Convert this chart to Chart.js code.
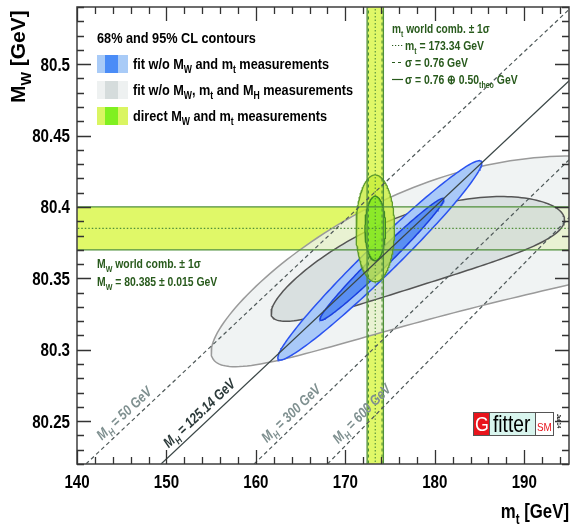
<!DOCTYPE html>
<html>
<head>
<meta charset="utf-8">
<title>MW vs mt</title>
<script src="https://cdn.jsdelivr.net/npm/chart.js@4.4.0/dist/chart.umd.min.js"></script>
<style>
  html, body { margin: 0; padding: 0; background: #fff; }
  canvas { display: block; }
</style>
</head>
<body>
<canvas id="chart" width="571" height="525"></canvas>
<script>
// ============================================
// DATA
// ============================================

const xMin = 140, xMax = 195;
const yMin = 80.22, yMax = 80.54;
const xTickValues = [140, 150, 160, 170, 180, 190];
const xTickLabels = ['140', '150', '160', '170', '180', '190'];
const yTickValues = [80.25, 80.3, 80.35, 80.4, 80.45, 80.5];
const yTickLabels = ['80.25', '80.3', '80.35', '80.4', '80.45', '80.5'];

// world combinations
const mtCentral = 173.34;
const mtSigmaExp = 0.76;
const mtSigmaTot = 0.91;   // 0.76 (+) 0.50 theo
const mwCentral = 80.385;
const mwSigma = 0.015;

// SM prediction lines at fixed MH: mt where each line meets MW = yMin and MW = yMax
const mhValues = ['50', '125.14', '300', '600'];
const mhMtAtLow = [141.0, 149.4, 159.8, 168.0];
const mhMtAtHigh = [195.3, 203.8, 212.7, 218.1];

// 95% / 68% CL contours, approximated by (slightly bent) ellipses
// order: grey 95, grey 68, blue 95, blue 68, green 95, green 68
const contourMt = [183.9, 178.1, 173.85, 174.08, 173.34, 173.34];
const contourMw = [80.3776, 80.371, 80.3626, 80.3633, 80.385, 80.385];
const contourHalfMt = [28.9, 16.4, 11.4, 6.93, 2.15, 1.15];
const contourHalfMw = [0.0673, 0.042, 0.0698, 0.0427, 0.0374, 0.0225];
const contourRho = [0.688, 0.775, 0.977, 0.984, 0, 0];
const contourBend = [0.0327, 0.0126, 0, 0, 0, 0];

// ============================================
// STYLE
// ============================================

const FONT = '"Liberation Sans", Arial, sans-serif';
const NARROW = 0.82;           // horizontal squeeze to mimic the condensed ROOT font
const DARK_GREEN = '#285a1c';
const BAND_FILL = '#e0f868';
const BAND_LINE = '#4f8f3a';

const contourFill = ['rgba(236,240,240,0.78)', 'rgba(208,216,216,0.72)', '#a9c9f8', '#5a8ff2',
                     'rgba(198,236,56,0.78)', 'rgba(126,232,30,0.82)'];
const contourLine = ['#9a9a9a', '#555555', '#2a52f0', '#1a3fe0', '#5f9b2c', '#3d8a25'];

// ============================================
// HELPERS
// ============================================

function ellipsePoints(i) {
    const pts = [];
    const n = 200;
    const s = Math.sqrt(1 - contourRho[i] * contourRho[i]);
    for (let k = 0; k <= n; k++) {
        const t = 2 * Math.PI * k / n;
        const c = Math.cos(t);
        pts.push({
            x: contourMt[i] + contourHalfMt[i] * c,
            y: contourMw[i] + contourHalfMw[i] * (contourRho[i] * c + s * Math.sin(t)) - contourBend[i] * c * c
        });
    }
    return pts;
}

function lineSet(points, color, width, dash) {
    return {
        data: points,
        borderColor: color,
        borderWidth: width,
        borderDash: dash || [],
        backgroundColor: 'transparent',
        pointRadius: 0,
        fill: false,
        tension: 0
    };
}

function shapeSet(points, fillColor, lineColor, width) {
    return {
        data: points,
        borderColor: lineColor,
        borderWidth: width,
        backgroundColor: fillColor,
        pointRadius: 0,
        fill: 'shape',
        tension: 0
    };
}

// rich text: parts = [{t, sub}], squeezed horizontally by k
function richWidth(ctx, parts, size, style, k = NARROW) {
    let w = 0;
    for (const p of parts) {
        ctx.font = `${style} ${p.sub ? size * 0.68 : size}px ${FONT}`;
        w += ctx.measureText(p.t).width;
    }
    return w * k;
}

function richText(ctx, parts, x, y, size, style, k = NARROW) {
    ctx.save();
    ctx.translate(x, y);
    ctx.scale(k, 1);
    ctx.textAlign = 'left';
    let cx = 0;
    for (const p of parts) {
        const fs = p.sub ? size * 0.68 : size;
        ctx.font = `${style} ${fs}px ${FONT}`;
        ctx.fillText(p.t, cx, p.sub ? size * 0.28 : 0);
        cx += ctx.measureText(p.t).width;
    }
    ctx.restore();
    return cx * k;
}

// ============================================
// DATASETS (bottom to top)
// ============================================

const datasets = [];

// horizontal band MW
datasets.push(shapeSet([
    { x: xMin - 5, y: mwCentral - mwSigma }, { x: xMax + 5, y: mwCentral - mwSigma },
    { x: xMax + 5, y: mwCentral + mwSigma }, { x: xMin - 5, y: mwCentral + mwSigma },
    { x: xMin - 5, y: mwCentral - mwSigma }], BAND_FILL, 'transparent', 0));
// vertical band mt
datasets.push(shapeSet([
    { x: mtCentral - mtSigmaTot, y: yMin - 0.05 }, { x: mtCentral + mtSigmaTot, y: yMin - 0.05 },
    { x: mtCentral + mtSigmaTot, y: yMax + 0.05 }, { x: mtCentral - mtSigmaTot, y: yMax + 0.05 },
    { x: mtCentral - mtSigmaTot, y: yMin - 0.05 }], BAND_FILL, 'transparent', 0));

// grey, blue, green contours (95% below 68%)
for (let i = 0; i < contourMt.length; i++) {
    datasets.push(shapeSet(ellipsePoints(i), contourFill[i], contourLine[i], i < 4 ? 1.5 : 1.3));
}

// band lines
for (const s of [-1, 1]) {
    datasets.push(lineSet([{ x: xMin - 5, y: mwCentral + s * mwSigma }, { x: xMax + 5, y: mwCentral + s * mwSigma }], BAND_LINE, 1.3));
    datasets.push(lineSet([{ x: mtCentral + s * mtSigmaTot, y: yMin - 0.05 }, { x: mtCentral + s * mtSigmaTot, y: yMax + 0.05 }], BAND_LINE, 1.3));
    datasets.push(lineSet([{ x: mtCentral + s * mtSigmaExp, y: yMin - 0.05 }, { x: mtCentral + s * mtSigmaExp, y: yMax + 0.05 }], BAND_LINE, 1.1, [3, 3]));
}
datasets.push(lineSet([{ x: xMin - 5, y: mwCentral }, { x: xMax + 5, y: mwCentral }], BAND_LINE, 1.1, [1.5, 2]));
datasets.push(lineSet([{ x: mtCentral, y: yMin - 0.05 }, { x: mtCentral, y: yMax + 0.05 }], BAND_LINE, 1.1, [1.5, 2]));

// SM lines for fixed MH
mhValues.forEach((mh, i) => {
    const solid = mh === '125.14';
    datasets.push(lineSet([{ x: mhMtAtLow[i], y: yMin }, { x: mhMtAtHigh[i], y: yMax }],
        solid ? '#3a4646' : '#4f5959', 1.2, solid ? [] : [4, 3]));
});

datasets.forEach((d, i) => { d.order = datasets.length - i; });

// ============================================
// DECORATION PLUGIN (frame, ticks, legend, texts)
// ============================================

const decorPlugin = {
    id: 'decor',
    afterDraw(chart) {
        const ctx = chart.ctx;
        const a = chart.chartArea;
        const xs = chart.scales.x, ys = chart.scales.y;
        ctx.save();
        ctx.textBaseline = 'alphabetic';

        // MH labels along lines
        mhValues.forEach((mh, i) => {
            const mwAt = 80.25;
            const f = (mwAt - yMin) / (yMax - yMin);
            const mt = mhMtAtLow[i] + f * (mhMtAtHigh[i] - mhMtAtLow[i]);
            const x0 = xs.getPixelForValue(mhMtAtLow[i]), y0 = ys.getPixelForValue(yMin);
            const x1 = xs.getPixelForValue(mhMtAtHigh[i]), y1 = ys.getPixelForValue(yMax);
            const ang = Math.atan2(y1 - y0, x1 - x0);
            const px = xs.getPixelForValue(mt), py = ys.getPixelForValue(mwAt);
            const off = 10;
            const parts = [{ t: 'M' }, { t: 'H', sub: true }, { t: ' = ' + mh + ' GeV' }];
            ctx.save();
            ctx.translate(px + off * Math.sin(ang), py - off * Math.cos(ang));
            ctx.rotate(ang);
            ctx.fillStyle = mh === '125.14' ? '#2c3a3a' : '#7f9090';
            const w = richWidth(ctx, parts, 14.5, 'italic bold');
            richText(ctx, parts, -w / 2, 4, 14.5, 'italic bold');
            ctx.restore();
        });

        // frame
        ctx.strokeStyle = '#4a4a4a';
        ctx.lineWidth = 1.6;
        ctx.strokeRect(a.left, a.top, a.right - a.left, a.bottom - a.top);

        // ticks on all four sides
        ctx.lineWidth = 1.3;
        ctx.strokeStyle = '#333';
        ctx.beginPath();
        for (let v = xMin; v <= xMax + 1e-9; v += 2) {
            const major = Math.abs(v % 10) < 1e-6;
            const len = major ? 14 : 7;
            const px = Math.round(xs.getPixelForValue(v)) + 0.5;
            ctx.moveTo(px, a.bottom); ctx.lineTo(px, a.bottom - len);
            ctx.moveTo(px, a.top); ctx.lineTo(px, a.top + len);
        }
        for (let k = 0; k <= Math.round((yMax - yMin) / 0.01); k++) {
            const v = yMin + k * 0.01;
            const major = Math.abs(Math.round(v * 100) % 5) === 0;
            const len = major ? 14 : 7;
            const py = Math.round(ys.getPixelForValue(v)) + 0.5;
            ctx.moveTo(a.left, py); ctx.lineTo(a.left + len, py);
            ctx.moveTo(a.right, py); ctx.lineTo(a.right - len, py);
        }
        ctx.stroke();

        // tick labels
        ctx.fillStyle = '#000';
        xTickValues.forEach((v, i) => {
            const parts = [{ t: xTickLabels[i] }];
            const w = richWidth(ctx, parts, 18, 'bold', 0.84);
            richText(ctx, parts, xs.getPixelForValue(v) - w / 2, 488, 18, 'bold', 0.84);
        });
        yTickValues.forEach((v, i) => {
            const parts = [{ t: yTickLabels[i] }];
            const w = richWidth(ctx, parts, 18, 'bold', 0.84);
            richText(ctx, parts, 70 - w, ys.getPixelForValue(v) + 6.5, 18, 'bold', 0.84);
        });

        // axis titles
        const xt = [{ t: 'm' }, { t: 't', sub: true }, { t: ' [GeV]' }];
        const xw = richWidth(ctx, xt, 21, 'bold', 0.8);
        richText(ctx, xt, a.right - xw, 518, 21, 'bold', 0.8);
        ctx.save();
        ctx.translate(25, 103);
        ctx.rotate(-Math.PI / 2);
        richText(ctx, [{ t: 'M' }, { t: 'W', sub: true }, { t: ' [GeV]' }], 0, 0, 21, 'bold', 1);
        ctx.restore();

        // legend
        ctx.fillStyle = '#000';
        richText(ctx, [{ t: '68% and 95% CL contours' }], 97, 43, 15.5, 'bold');
        const legendRows = [
            { y: 55, light: '#a9cbf7', dark: '#4a8cf7',
              parts: [{ t: 'fit w/o M' }, { t: 'W', sub: true }, { t: ' and m' }, { t: 't', sub: true }, { t: ' measurements' }] },
            { y: 81, light: '#eef1f1', dark: '#d5dcdc',
              parts: [{ t: 'fit w/o M' }, { t: 'W', sub: true }, { t: ', m' }, { t: 't', sub: true }, { t: ' and M' }, { t: 'H', sub: true }, { t: ' measurements' }] },
            { y: 107, light: '#daf562', dark: '#80f020',
              parts: [{ t: 'direct M' }, { t: 'W', sub: true }, { t: ' and m' }, { t: 't', sub: true }, { t: ' measurements' }] }
        ];
        for (const r of legendRows) {
            ctx.fillStyle = r.light;
            ctx.fillRect(97, r.y, 31, 18);
            ctx.fillStyle = r.dark;
            ctx.fillRect(105, r.y, 13, 18);
            ctx.fillStyle = '#000';
            richText(ctx, r.parts, 133, r.y + 14, 15.5, 'bold');
        }

        // mt annotation
        ctx.fillStyle = DARK_GREEN;
        ctx.strokeStyle = DARK_GREEN;
        richText(ctx, [{ t: 'm' }, { t: 't', sub: true }, { t: ' world comb. \u00b1 1\u03c3' }], 392, 33, 13, 'bold', 0.78);
        const rows = [
            { y: 50, dash: [1.2, 1.8], parts: [{ t: 'm' }, { t: 't', sub: true }, { t: ' = 173.34 GeV' }] },
            { y: 67, dash: [3, 3], parts: [{ t: '\u03c3 = 0.76 GeV' }] },
            { y: 84, dash: [], parts: [{ t: '\u03c3 = 0.76 \u2295 0.50' }, { t: 'theo', sub: true }, { t: ' GeV' }] }
        ];
        for (const r of rows) {
            ctx.lineWidth = 1.2;
            ctx.setLineDash(r.dash);
            ctx.beginPath();
            ctx.moveTo(392, r.y - 4.5); ctx.lineTo(403, r.y - 4.5);
            ctx.stroke();
            ctx.setLineDash([]);
            richText(ctx, r.parts, 405, r.y, 13, 'bold', 0.8);
        }

        // MW annotation
        richText(ctx, [{ t: 'M' }, { t: 'W', sub: true }, { t: ' world comb. \u00b1 1\u03c3' }], 97, 268, 13, 'bold', 0.8);
        richText(ctx, [{ t: 'M' }, { t: 'W', sub: true }, { t: ' = 80.385 \u00b1 0.015 GeV' }], 97, 286, 13, 'bold', 0.8);

        // Gfitter logo
        const lx = 473, ly = 412, lh = 23;
        ctx.fillStyle = '#e8141c';
        ctx.fillRect(lx, ly, 16, lh);
        ctx.fillStyle = '#d9f5ee';
        ctx.fillRect(lx + 16, ly, 46, lh);
        ctx.fillStyle = '#ffffff';
        ctx.fillRect(lx + 62, ly, 18, lh);
        ctx.strokeStyle = '#555';
        ctx.lineWidth = 1;
        ctx.strokeRect(lx + 0.5, ly + 0.5, 80, lh);
        ctx.beginPath();
        ctx.moveTo(lx + 16.5, ly); ctx.lineTo(lx + 16.5, ly + lh);
        ctx.moveTo(lx + 62.5, ly); ctx.lineTo(lx + 62.5, ly + lh);
        ctx.stroke();
        ctx.fillStyle = '#fff';
        richText(ctx, [{ t: 'G' }], lx + 2, ly + 19, 21, 'normal', 0.85);
        ctx.fillStyle = '#000';
        richText(ctx, [{ t: 'fitter' }], lx + 20, ly + 20, 24, 'normal', 0.8);
        ctx.fillStyle = '#e8141c';
        richText(ctx, [{ t: 'SM' }], lx + 64, ly + 19, 11, 'normal', 0.9);
        ctx.save();
        ctx.translate(lx + 84, ly + 2);
        ctx.rotate(Math.PI / 2);
        ctx.fillStyle = '#000';
        ctx.font = `bold 5px ${FONT}`;
        ctx.fillText('Jul 14', 0, 0);
        ctx.restore();

        ctx.restore();
    }
};

// ============================================
// CHART
// ============================================

new Chart(document.getElementById('chart').getContext('2d'), {
    type: 'line',
    data: { datasets },
    options: {
        responsive: false,
        animation: false,
        events: [],
        layout: { padding: { top: 7, right: 2, left: 0, bottom: 0 } },
        plugins: { legend: { display: false }, tooltip: { enabled: false } },
        scales: {
            x: {
                type: 'linear',
                min: xMin, max: xMax,
                grid: { display: false, drawTicks: false },
                border: { display: false },
                ticks: { display: false },
                afterFit: s => { s.height = 61; }
            },
            y: {
                type: 'linear',
                min: yMin, max: yMax,
                grid: { display: false, drawTicks: false },
                border: { display: false },
                ticks: { display: false },
                afterFit: s => { s.width = 77; }
            }
        }
    },
    plugins: [decorPlugin]
});
</script>
</body>
</html>
